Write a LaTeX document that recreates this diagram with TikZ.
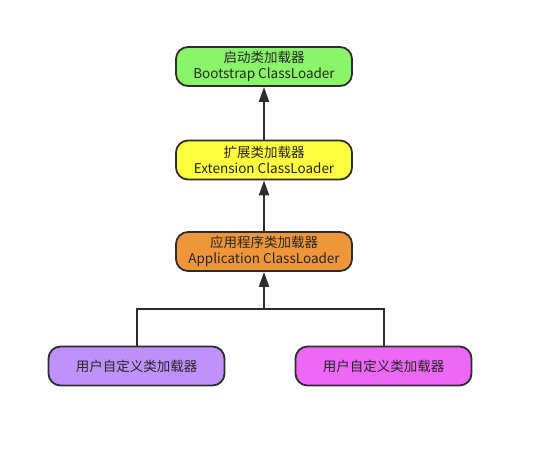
\documentclass[tikz,border=0pt]{standalone}
\usepackage{fontspec}
\setmainfont{Noto Sans CJK SC}
\usepackage{tikz}
\usetikzlibrary{arrows.meta, positioning}

\begin{document}
\begin{tikzpicture}[x=1pt, y=-1pt]
    % --- GLOBAL DEFINITIONS ---
    \def\bw{176} % box width
    \def\bh{39}  % box height

    % Custom colors
    \definecolor{bootfill}{RGB}{136, 246, 104}
    \definecolor{extfill}{RGB}{255, 255, 64}
    \definecolor{appfill}{RGB}{240, 150, 58}
    \definecolor{userafill}{RGB}{190, 146, 250}
    \definecolor{userbfill}{RGB}{236, 104, 245}
    \definecolor{edge}{RGB}{45, 45, 45}

    \tikzset{
        loader/.style={draw=edge, line width=1.8pt, rounded corners=12pt,
            minimum width=\bw pt, minimum height=\bh pt, inner sep=0pt,
            align=center, text=black!85, font=\fontsize{13.5}{16}\selectfont},
        link/.style={draw=edge, line width=2pt},
        uparrow/.style={link, -{Triangle[length=15pt, width=10pt]}}
    }

    \useasboundingbox (0,0) rectangle (534,448);

    % LOADER CHAIN
    \node[loader, fill=bootfill] (boot) at (264,66.5) {启动类加载器\\Bootstrap ClassLoader};
    \node[loader, fill=extfill] (ext) at (264,160) {扩展类加载器\\Extension ClassLoader};
    \node[loader, fill=appfill] (app) at (264,251.5) {应用程序类加载器\\Application ClassLoader};

    % USER LOADERS
    \node[loader, fill=userafill] (usera) at (136.5,366) {用户自定义类加载器};
    \node[loader, fill=userbfill] (userb) at (383.5,366) {用户自定义类加载器};

    \draw[uparrow] (ext) -- (boot);
    \draw[uparrow] (app) -- (ext);

    % tree join below the application loader
    \coordinate (join) at (264,309);
    \draw[link] (usera.north) |- (join) -| (userb.north);
    \draw[uparrow] (join) -- (app);
\end{tikzpicture}
\end{document}
